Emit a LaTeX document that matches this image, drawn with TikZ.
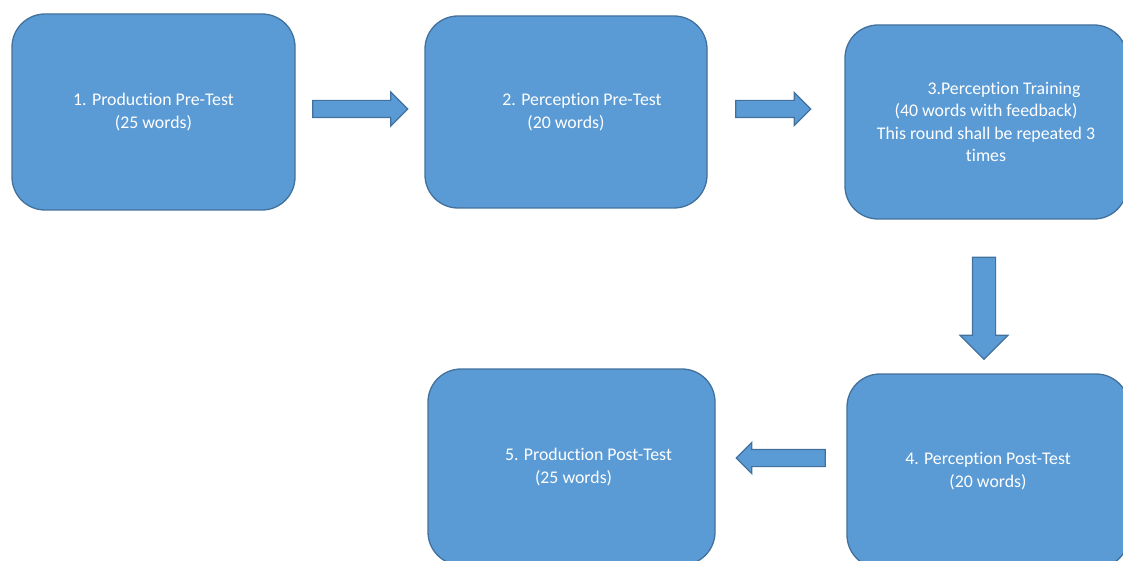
\documentclass[tikz,border=0pt]{standalone}
\usepackage{fontspec}
\setmainfont[Ligatures=NoCommon]{Carlito}
\usetikzlibrary{positioning, calc, shapes.arrows}
\definecolor{StageBlue}{RGB}{91, 155, 213}
\definecolor{StageEdge}{RGB}{65, 113, 156}

\begin{document}
\begin{tikzpicture}[x=1pt, y=-1pt,
  stage/.style={draw=StageEdge, fill=StageBlue, line width=1.3pt, rounded corners=33pt,
    text=white, align=center, inner sep=0pt, font=\fontsize{17.8}{22.5}\selectfont},
  flow/.style={single arrow, draw=StageEdge, fill=StageBlue, line width=1.2pt,
    inner xsep=0pt, single arrow head indent=0pt}]
\useasboundingbox (0,0) rectangle (1123,561);
% the five stages
\node[stage, minimum width=283pt, minimum height=196pt] (pre1) at (153.5,112)
  {1. Production Pre-Test\\(25 words)};
\node[stage, minimum width=282pt, minimum height=192pt, align=left] (pre2) at (566,112)
  {\hspace*{32pt}2. Perception Pre-Test\\\hspace*{57pt}(20 words)};
\node[stage, minimum width=282pt, minimum height=194pt] (train) at (986,122)
  {\hspace*{36pt}3.Perception Training\\(40 words with feedback)\\This round shall be repeated 3\\times};
\node[stage, minimum width=282pt, minimum height=194pt] (post4) at (988,471)
  {4. Perception Post-Test\\(20 words)};
\node[stage, minimum width=287pt, minimum height=196pt, align=left] (post5) at (571.5,467)
  {\hspace*{34pt}5. Production Post-Test\\\hspace*{64pt}(25 words)};
% block arrows between them
\node[flow, inner ysep=8pt, single arrow head extend=8.5pt, minimum height=95pt]
  (a1) at ($(pre1.east)!0.5!(pre2.west)+(-4,-3)$) {};
\node[flow, inner ysep=8pt, single arrow head extend=8pt, minimum height=75pt]
  (a2) at ($(pre2.east)!0.5!(train.west)+(-7,-8)$) {};
\node[flow, inner ysep=11pt, single arrow head extend=12.5pt, minimum height=102pt, rotate=-90]
  (a3) at ($(train.south)!0.5!(post4.north)+(-3,6)$) {};
\node[flow, inner ysep=8pt, single arrow head extend=7pt, minimum height=89pt, rotate=180]
  (a4) at ($(post4.west)!0.5!(post5.east)+(4,-11)$) {};
\end{tikzpicture}
\end{document}
